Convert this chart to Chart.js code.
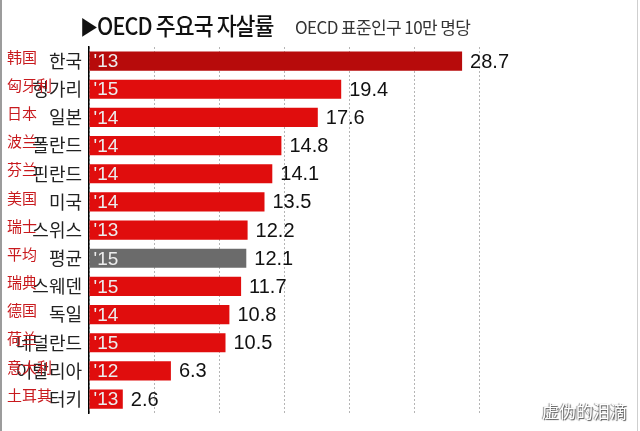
<!DOCTYPE html>
<html><head><meta charset="utf-8">
<script src="https://cdn.jsdelivr.net/npm/chart.js@4"></script>
<style>
html,body{margin:0;padding:0;background:#fff;}
#wrap{position:relative;width:640px;height:431px;overflow:hidden;background:#fff;}
#frame{position:absolute;left:0;top:0;width:638px;height:431px;border-left:2px solid #9c9c9c;border-right:1px solid #cfcfcf;box-sizing:border-box;pointer-events:none;}
#title{position:absolute;left:80px;top:7px;font:500 24px "Noto Sans CJK KR";color:#111;white-space:nowrap;letter-spacing:-1px;transform:scaleX(0.9);transform-origin:left top;}
#title .tri{font-size:20px;}
#sub{position:absolute;left:295px;top:14px;font:400 17px "Noto Sans CJK KR";color:#333;white-space:nowrap;letter-spacing:-0.6px;}
#wm{position:absolute;left:542px;top:398px;font:400 17px "Noto Sans CJK SC";color:#fff;white-space:nowrap;text-shadow:1px 1px 1px #555,-1px 0 1px #888;}
canvas{position:absolute;left:0;top:0;}
</style></head>
<body>
<div id="wrap">
<canvas id="c" width="640" height="431"></canvas>
<div id="title"><span class="tri">▶</span>OECD 주요국 자살률</div>
<div id="sub">OECD 표준인구 10만 명당</div>
<div id="wm">虚伪的泪滴</div>
<div id="frame"></div>
</div>
<script>
const koreanLabels = ['한국','헝가리','일본','폴란드','핀란드','미국','스위스','평균','스웨덴','독일','네덜란드','이탈리아','터키'];
const chineseLabels = ['韩国','匈牙利','日本','波兰','芬兰','美国','瑞士','平均','瑞典','德国','荷兰','意大利','土耳其'];
const years = ["'13","'15","'14","'14","'14","'14","'13","'15","'15","'14","'15","'12","'13"];
const rates = [28.7,19.4,17.6,14.8,14.1,13.5,12.2,12.1,11.7,10.8,10.5,6.3,2.6];
const axisTicks = [0,5,10,15,20,25,30];

const RED='#e00d0d', DARK='#b70b0b', GRAY='#6b6b6b';

const labelPlugin = {
  id:'labels',
  afterDraw(chart){
    const ctx=chart.ctx, y=chart.scales.y, meta=chart.getDatasetMeta(0);
    ctx.save();
    ctx.textBaseline='middle';
    ctx.font='15px "Noto Sans CJK SC"';
    ctx.fillStyle='#c81a1e';
    ctx.textAlign='left';
    chineseLabels.forEach((t,i)=>{
      ctx.fillText(t, 7, y.getPixelForValue(i)-4);
    });
    ctx.font='19px "Liberation Sans"';
    ctx.fillStyle='#ececec';
    meta.data.forEach((bar,i)=>{
      ctx.fillText(years[i], bar.base+4, bar.y+1);
    });
    ctx.font='20px "Liberation Sans"';
    ctx.fillStyle='#111';
    meta.data.forEach((bar,i)=>{
      ctx.fillText(rates[i].toFixed(1), bar.x+8, bar.y+1);
    });
    ctx.restore();
  }
};

new Chart(document.getElementById('c'),{
  type:'bar',
  data:{labels:koreanLabels,datasets:[{
    data:rates,
    backgroundColor:(c)=> c.index===0?DARK:(koreanLabels[c.index]==='평균'?GRAY:RED),
    borderWidth:0,
    barPercentage:0.68,
    categoryPercentage:1
  }]},
  options:{
    indexAxis:'y',
    responsive:false,
    animation:false,
    layout:{padding:{top:47,right:161,bottom:0,left:0}},
    plugins:{legend:{display:false},tooltip:{enabled:false},title:{display:false}},
    scales:{
      x:{
        min:axisTicks[0],max:axisTicks[axisTicks.length-1],
        afterBuildTicks:(s)=>{s.ticks=axisTicks.map(v=>({value:v}));},
        ticks:{display:false},
        grid:{color:'#b5b5b5',lineWidth:1,drawTicks:false},
        border:{display:false,dash:[2,2]},
        afterFit:(s)=>{s.height=0;}
      },
      y:{
        grid:{display:false,drawTicks:false},
        border:{display:true,color:'#000',width:1.5},
        ticks:{padding:7,color:'#222',font:{family:'"Noto Sans CJK KR"',size:18}},
        afterFit:(s)=>{s.width=89;}
      }
    }
  },
  plugins:[labelPlugin]
});
</script>
</body></html>
